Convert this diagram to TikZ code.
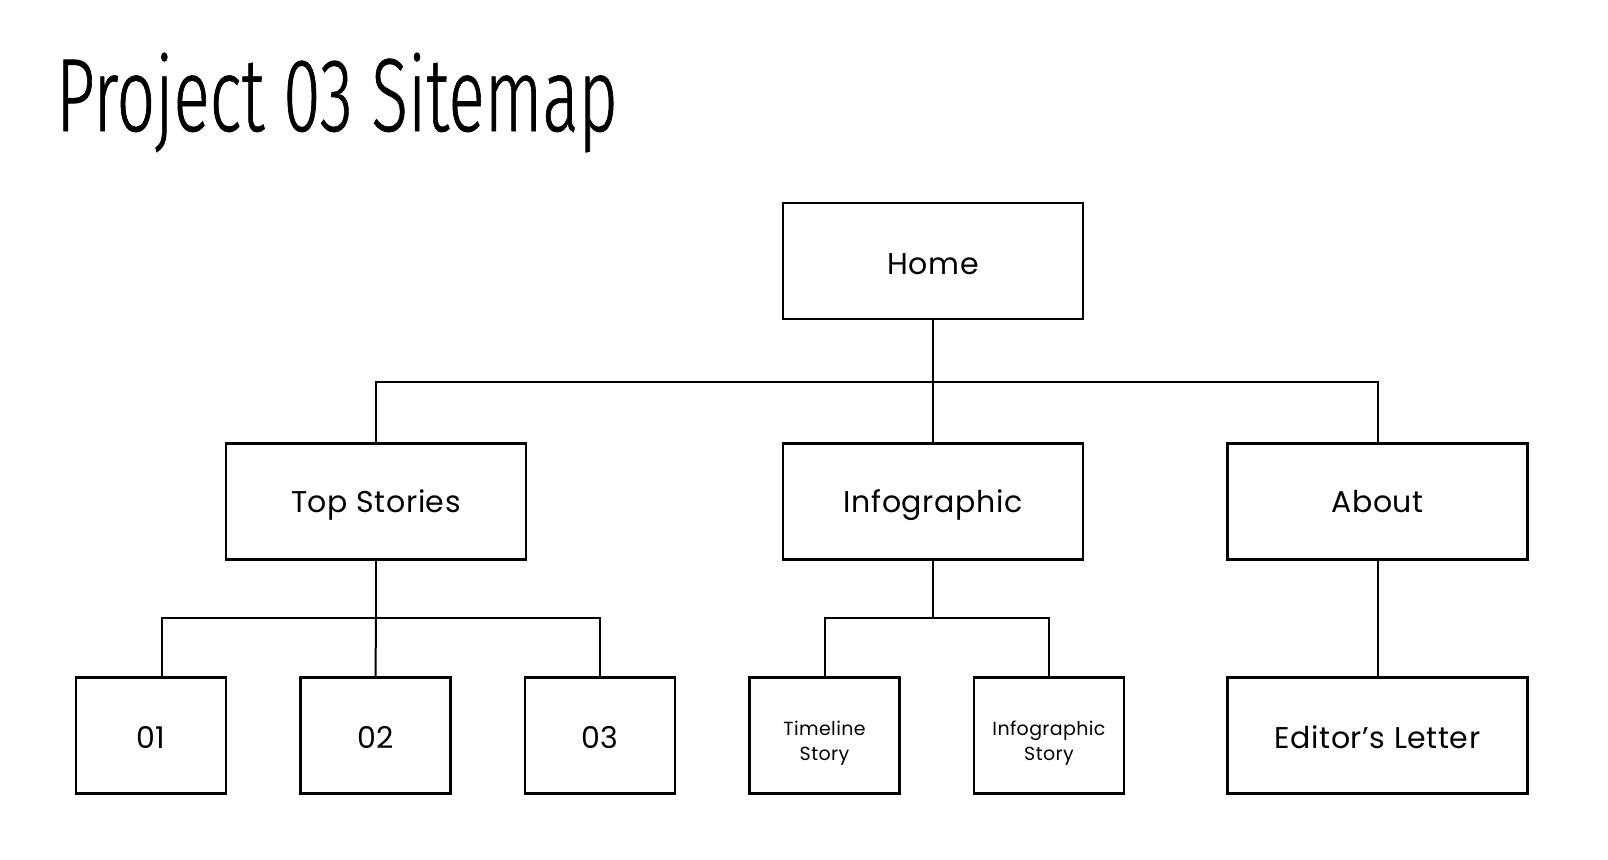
\documentclass[tikz,border=0pt]{standalone}
\usepackage{fontspec}
\setmainfont{Poppins}[LetterSpace=2]
\newfontfamily\titlefont[FakeStretch=0.65, FakeBold=0.6]{Fira Sans Light}
\begin{document}
\begin{tikzpicture}[x=1pt,y=-1pt,
  link/.style={draw=black, line width=2pt},
  pagebox/.style={draw=black, line width=2.2pt, fill=white, inner sep=0pt,
    minimum height=116pt, align=center},
  % text height above the cap height lowers the label inside its box
  bigtext/.style={font=\fontsize{30}{35}\selectfont, text height=#1, text depth=0pt},
  bigtext/.default=26.9pt,
  % two-line labels: a tall text box lowers the lines to sit just below the middle
  smalltext/.style={font=\fontsize{19}{25}\selectfont, text height=55pt, text depth=4.9pt},
  wide/.style={pagebox, minimum width=300pt, bigtext},
  wideup/.style={pagebox, minimum width=300pt, bigtext=21.9pt},
  narrow/.style={pagebox, minimum width=150pt, bigtext},
  narrowsmall/.style={pagebox, minimum width=150pt, smalltext},
]
\useasboundingbox[fill=white] (0,0) rectangle (1608,859);

% title
\node[anchor=base west, inner sep=0pt, font=\titlefont\fontsize{104}{110}\selectfont]
  (title) at (56,131) {Project 03 Sitemap};

% level 0
\node[wide] (home) at (933,261) {Home};

% level 1
\node[wideup] (top)   at (376,501.5)    {Top Stories};
\node[wideup] (info)  at (933,501.5)    {Infographic};
\node[wideup] (about) at (1377.5,501.5) {About};

% level 2
\node[narrow] (s1) at (151,735.5)   {01};
\node[narrow] (s2) at (375.5,735.5) {02};
\node[narrow] (s3) at (600,735.5)   {03};
\node[narrowsmall] (tl) at (824.5,735.5) {Timeline\\Story};
\node[narrowsmall] (is) at (1049,735.5)  {Infographic\\Story};
\node[wide] (ed) at (1377.5,735.5) {Editor’s Letter};

% junctions
\coordinate (j0) at (933,382);
\coordinate (j1) at (376,618);
\coordinate (j2) at (933,618);

% connectors
\draw[link] (home.south) -- (j0);
\draw[link] (top.north) |- (j0) -| (about.north);
\draw[link] (j0) -- (info.north);

\draw[link] (top.south) -- (j1);
\draw[link] ([xshift=11pt]s1.north) |- (j1) -| (s3.north);
\draw[link] (j1) -- (s2.north);

\draw[link] (info.south) -- (j2);
\draw[link] (tl.north) |- (j2) -| (is.north);

\draw[link] (about.south) -- (ed.north);
\end{tikzpicture}
\end{document}
